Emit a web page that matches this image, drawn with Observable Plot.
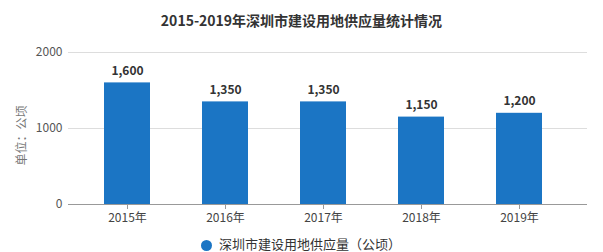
<!DOCTYPE html>
<html><head><meta charset="utf-8">
<script src="https://cdn.jsdelivr.net/npm/d3@7"></script>
<script src="https://cdn.jsdelivr.net/npm/@observablehq/plot@0.6"></script>
<style>
body{margin:0;background:#fff;font-family:"Noto Sans CJK SC","Noto Sans",sans-serif;width:603px;height:252px;overflow:hidden;position:relative}
#title{height:36px;line-height:40px;text-align:center;font-size:14px;font-weight:bold;color:#333}
#legend{position:absolute;left:0;top:235px;width:603px;font-size:13px;line-height:16px;color:#333}
#legend .dot{position:absolute;left:201px;top:5px;width:11px;height:11px;border-radius:50%;background:#1b75c4}
#legend .lab{position:absolute;left:219px;top:1px;white-space:nowrap}
</style></head>
<body>
<div id="title">2015-2019年深圳市建设用地供应量统计情况</div>
<div id="chart"></div>
<div id="legend"><span class="dot"></span><span class="lab">深圳市建设用地供应量（公顷）</span></div>
<script>
const years = ["2015年","2016年","2017年","2018年","2019年"];
const values = [1600,1350,1350,1150,1200];
const yTicks = [0,1000,2000];
const seriesName = "深圳市建设用地供应量（公顷）";
const yLabel = "单位：公顷";

const data = years.map((y,i)=>({year:y, value:values[i]}));
const fmt = d3.format(",");
const chart = Plot.plot({
  width:603, height:196,
  marginTop:16, marginBottom:28, marginLeft:68, marginRight:16,
  style:{fontFamily:'"Noto Sans CJK SC","Noto Sans",sans-serif', fontSize:"12px", color:"#555", background:"#fff"},
  x:{domain:years, paddingInner:0.533, paddingOuter:0.4, align:0.445, label:null},
  y:{domain:[0,2000], label:null},
  marks:[
    Plot.ruleY(yTicks.filter(d=>d>0), {stroke:"#ddd", strokeWidth:1}),
    Plot.barY(data, {x:"year", y:"value", fill:"#1b75c4"}),
    Plot.ruleY([0], {stroke:"#999", strokeWidth:1}),
    Plot.text(data, {x:"year", y:"value", text:d=>fmt(d.value), dy:-12, fontWeight:"bold", fontSize:12, fill:"#333"}),
    Plot.axisY({ticks:yTicks, tickSize:0, tickPadding:6, tickFormat:d=>String(d), fill:"#555", label:null}),
    Plot.axisX({tickSize:5, stroke:"#999", tickPadding:4, fill:"#444", label:null}),
    Plot.text([yLabel], {frameAnchor:"left", textAnchor:"middle", dx:-46, dy:7, rotate:-90, fill:"#777", fontSize:12, text:d=>d})
  ]
});
document.getElementById("chart").appendChild(chart);
</script>
</body></html>
